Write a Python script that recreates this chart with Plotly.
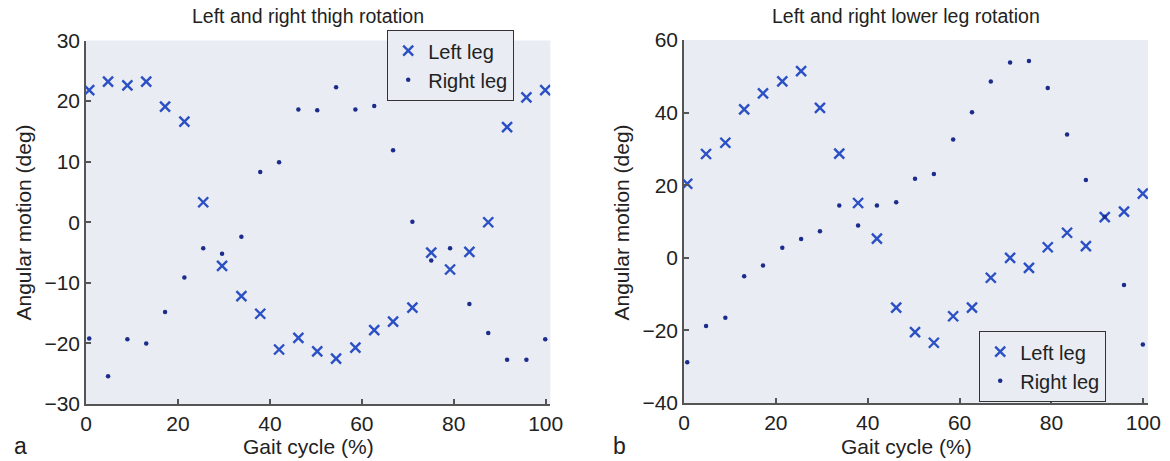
import plotly.graph_objects as go

gait = [0.7, 4.8, 9.0, 13.1, 17.2, 21.4, 25.5, 29.6, 33.8, 37.9, 42.0, 46.2, 50.3,
        54.4, 58.6, 62.7, 66.8, 71.0, 75.1, 79.2, 83.4, 87.5, 91.6, 95.8, 99.9]

thigh_left = [21.8, 23.2, 22.6, 23.2, 19.1, 16.6, 3.3, -7.2, -12.2, -15.1, -21.0, -19.1, -21.3,
              -22.5, -20.7, -17.8, -16.4, -14.1, -5.0, -7.8, -4.9, 0.0, 15.7, 20.6, 21.8]
thigh_right = [-19.2, -25.4, -19.3, -20.0, -14.8, -9.1, -4.3, -5.2, -2.4, 8.3, 9.9, 18.6, 18.5,
               22.3, 18.6, 19.2, 11.9, 0.1, -6.3, -4.3, -13.5, -18.3, -22.7, -22.7, -19.3]

shank_left = [20.4, 28.6, 31.7, 40.9, 45.3, 48.6, 51.4, 41.3, 28.7, 15.1, 5.3, -13.7, -20.5,
              -23.4, -16.1, -13.7, -5.5, 0.0, -2.8, 2.9, 6.9, 3.2, 11.2, 12.7, 17.7]
shank_right = [-28.8, -18.8, -16.5, -5.1, -2.1, 2.75, 5.2, 7.3, 14.4, 8.9, 14.4, 15.3, 21.8,
               23.1, 32.6, 40.1, 48.6, 53.8, 54.2, 46.8, 34.0, 21.4, 11.3, -7.5, -23.9]

titles = ["Left and right thigh rotation", "Left and right lower leg rotation"]
series_names = ["Left leg", "Right leg"]
panel_letters = ["a", "b"]
x_ticks = [0, 20, 40, 60, 80, 100]
y_ticks_a = [-30, -20, -10, 0, 10, 20, 30]
y_ticks_b = [-40, -20, 0, 20, 40, 60]

W, H = 1170, 461
FONT = "Liberation Sans, Arial, sans-serif"
BG = "#e9ecf3"
XCOL = "#2b4fc4"
DCOL = "#1c2c8c"
AXC = "#555555"
TXT = "#222222"

def px(x):
    return x / W

def py(y):
    return 1 - y / H

fig = go.Figure()

def add_panel(left, right, xa, ya, legend):
    fig.add_trace(go.Scatter(x=gait, y=left, mode="markers", name=series_names[0],
                             xaxis=xa, yaxis=ya, legend=legend,
                             marker=dict(symbol="x-thin", size=10, color=XCOL,
                                         line=dict(width=2.4, color=XCOL))))
    fig.add_trace(go.Scatter(x=gait, y=right, mode="markers", name=series_names[1],
                             xaxis=xa, yaxis=ya, legend=legend,
                             marker=dict(symbol="circle", size=4.5, color=DCOL,
                                         line=dict(width=0))))

add_panel(thigh_left, thigh_right, "x", "y", "legend")
add_panel(shank_left, shank_right, "x2", "y2", "legend2")

axis_common = dict(showline=True, linecolor=AXC, linewidth=1.5, ticks="inside",
                   ticklen=5, tickcolor=AXC, tickwidth=1.5, showgrid=False,
                   zeroline=False, mirror=False, automargin=False,
                   tickfont=dict(family=FONT, size=21, color=TXT))

legend_common = dict(xanchor="left", yanchor="top", bgcolor=BG,
                     bordercolor="#333333", borderwidth=1.2,
                     font=dict(family=FONT, size=20, color=TXT),
                     itemsizing="trace", tracegroupgap=0)

fig.update_layout(
    template="none",
    width=W, height=H,
    margin=dict(l=0, r=0, t=0, b=0, pad=0),
    paper_bgcolor="white",
    plot_bgcolor=BG,
    font=dict(family=FONT, color=TXT),
    xaxis=dict(domain=[px(86), px(550.3)], range=[0, 101], tickvals=x_ticks,
               anchor="y", **axis_common),
    yaxis=dict(domain=[py(404), py(40.5)], range=[-30, 30], tickvals=y_ticks_a,
               anchor="x", **axis_common),
    xaxis2=dict(domain=[px(684), px(1147.9)], range=[0, 101], tickvals=x_ticks,
                anchor="y2", **axis_common),
    yaxis2=dict(domain=[py(403), py(40)], range=[-40, 60], tickvals=y_ticks_b,
                anchor="x2", **axis_common),
    legend=dict(x=px(387), y=py(30), **legend_common),
    legend2=dict(x=px(979), y=py(331), **legend_common),
    showlegend=True,
)

ann = []
for cx, t in zip([308, 906], titles):
    ann.append(dict(x=px(cx), y=py(16), xref="paper", yref="paper", text=t,
                    showarrow=False, xanchor="center", yanchor="middle",
                    font=dict(family=FONT, size=19.5, color=TXT)))
for cx in [308, 906]:
    ann.append(dict(x=px(cx), y=py(446), xref="paper", yref="paper", text="Gait cycle (%)",
                    showarrow=False, xanchor="center", yanchor="middle",
                    font=dict(family=FONT, size=21, color=TXT)))
for cx, cy in [(23, 222.5), (621, 222.5)]:
    ann.append(dict(x=px(cx), y=py(cy), xref="paper", yref="paper",
                    text="Angular motion (deg)", textangle=-90,
                    showarrow=False, xanchor="center", yanchor="middle",
                    font=dict(family=FONT, size=21, color=TXT)))
for cx, letter in zip([20, 619], panel_letters):
    ann.append(dict(x=px(cx), y=py(446), xref="paper", yref="paper", text=letter,
                    showarrow=False, xanchor="center", yanchor="middle",
                    font=dict(family=FONT, size=23, color=TXT)))
fig.update_layout(annotations=ann)

fig.write_html("out.html")
